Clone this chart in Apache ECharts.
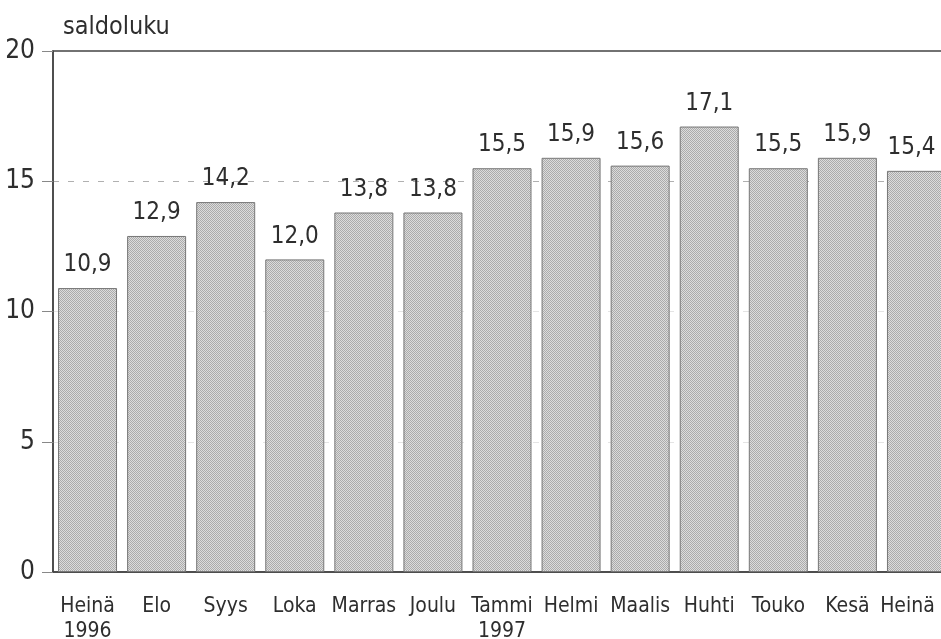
<!DOCTYPE html>
<html>
<head>
<meta charset="utf-8">
<script src="https://cdn.jsdelivr.net/npm/echarts@6/dist/echarts.min.js"></script>
<style>
  html, body { margin: 0; padding: 0; background: #fff; }
  #container_chart { width: 941px; height: 639px; }
</style>
</head>
<body>
<div id="container_chart"></div>
<script>
const months = ['Heinä\n1996', 'Elo', 'Syys', 'Loka', 'Marras', 'Joulu', 'Tammi\n1997',
    'Helmi', 'Maalis', 'Huhti', 'Touko', 'Kesä', 'Heinä'];
const saldo = [10.9, 12.9, 14.2, 12.0, 13.8, 13.8, 15.5, 15.9, 15.6, 17.1, 15.5, 15.9, 15.4];
const yTicks = [0, 5, 10, 15, 20];

const font = "'DejaVu Sans Condensed', 'Liberation Sans Narrow', sans-serif";
const ink = '#2e2e2e';

// dotted raster like the printed bars
const tex = document.createElement('canvas');
tex.width = 2;
tex.height = 2;
const ctx = tex.getContext('2d');
ctx.fillStyle = '#dcdcdc';
ctx.fillRect(0, 0, 2, 2);
ctx.fillStyle = '#ababab';
ctx.fillRect(0, 0, 1, 1);
ctx.fillRect(1, 1, 1, 1);

const last = saldo.length - 1;

let chart = echarts.init(document.getElementById('container_chart'));
chart.setOption({
    animation: false,
    title: {
        text: 'saldoluku',
        left: 58,
        top: 10,
        textStyle: { fontFamily: font, fontSize: 25, fontWeight: 'normal', color: ink }
    },
    grid: {
        left: 53,
        top: 51,
        bottom: 67,
        width: 898,
        outerBoundsMode: 'none',
        show: true,
        borderColor: '#444',
        borderWidth: 1.5,
        backgroundColor: 'transparent'
    },
    xAxis: {
        type: 'category',
        data: months,
        axisLine: { lineStyle: { color: '#444', width: 1.5 } },
        axisTick: { show: false },
        axisLabel: {
            fontFamily: font,
            fontSize: 21,
            color: ink,
            margin: 22,
            lineHeight: 25,
            interval: 0,
            // last month sits at the clipped right edge, nudge it inside
            formatter: (v, i) => i === last ? '{last|' + v + '}' : v,
            rich: {
                last: {
                    fontFamily: font,
                    fontSize: 21,
                    color: ink,
                    lineHeight: 25,
                    padding: [0, 18, 0, 0]
                }
            }
        }
    },
    yAxis: {
        type: 'value',
        min: yTicks[0],
        max: yTicks[yTicks.length - 1],
        interval: 5,
        axisLine: { show: true, lineStyle: { color: '#444', width: 1.5 } },
        axisTick: { show: true, length: 11, lineStyle: { color: '#888' } },
        axisLabel: {
            fontFamily: font,
            fontSize: 26,
            color: ink,
            margin: 18
        },
        splitLine: {
            show: true,
            lineStyle: {
                color: ['rgba(0,0,0,0)', '#e4e4e4', '#e4e4e4', '#b0b0b0', 'rgba(0,0,0,0)'],
                type: [6, 9],
                width: 1
            }
        }
    },
    series: [{
        name: 'saldoluku',
        type: 'bar',
        data: saldo.map((v, i) => i === last ? { value: v, label: { offset: [-5, 0] } } : v),
        barWidth: 59,
        itemStyle: {
            color: { image: tex, repeat: 'repeat' },
            borderColor: '#777',
            borderWidth: 1
        },
        label: {
            show: true,
            position: 'top',
            distance: 11,
            fontFamily: font,
            fontSize: 24,
            color: ink,
            formatter: p => p.value.toFixed(1).replace('.', ',')
        }
    }]
});
</script>
</body>
</html>
